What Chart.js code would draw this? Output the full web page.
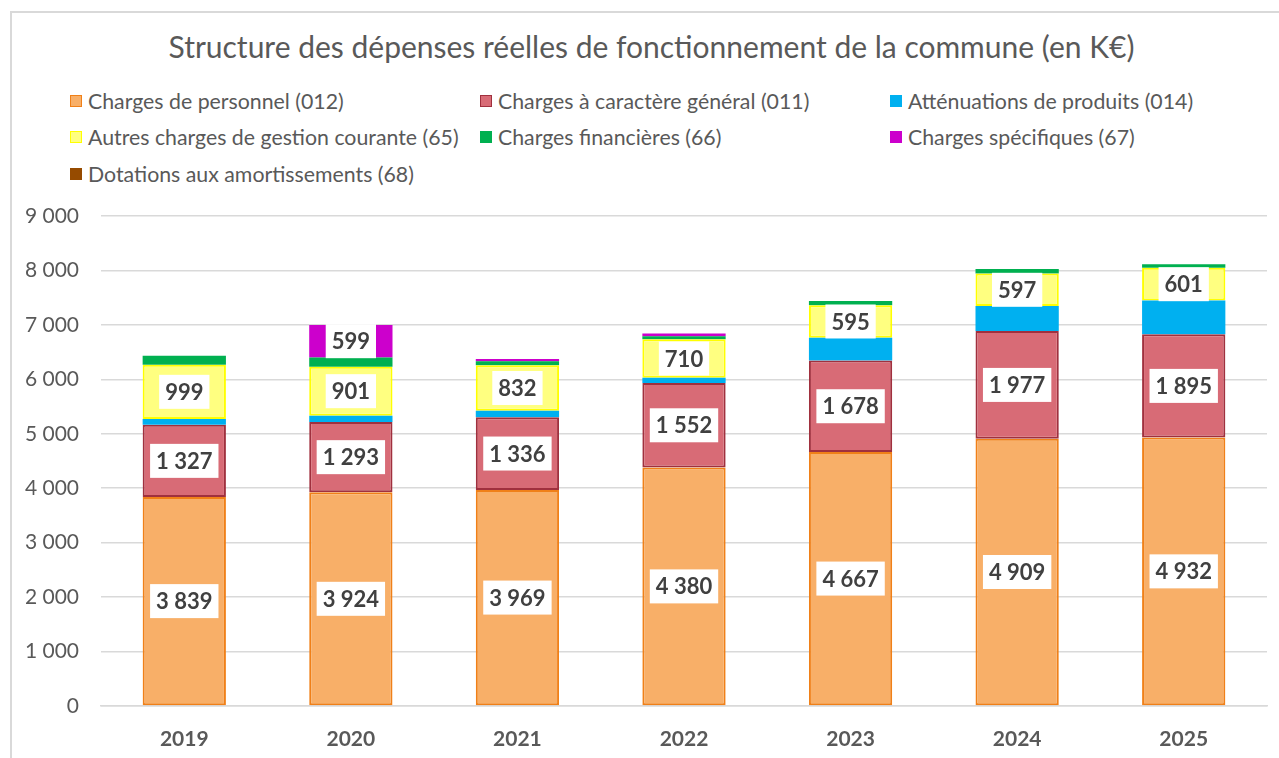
<!DOCTYPE html>
<html lang="fr">
<head>
<meta charset="utf-8">
<title>Structure des dépenses réelles de fonctionnement</title>
<script src="https://cdn.jsdelivr.net/npm/chart.js@4.4.1/dist/chart.umd.min.js"></script>
<style>
  html, body { margin: 0; padding: 0; background: #fff; }
  #wrap { position: relative; width: 1279px; height: 758px; overflow: hidden; font-family: Lato, "Open Sans", sans-serif; }
  #frame { position: absolute; left: 10px; top: 11px; width: 1300px; height: 800px; border-left: 2px solid #d9d9d9; border-top: 2px solid #d9d9d9; }
  #title { position: absolute; left: 0; width: 1303px; top: 28px; text-align: center; font-size: 30px; color: #595959; white-space: nowrap; }
  #legend { position: absolute; left: 70px; top: 88px; display: grid; grid-template-columns: 410px 410px 410px; row-gap: 11.5px; }
  .item { display: flex; align-items: center; height: 25px; font-size: 21.3px; color: #595959; white-space: nowrap; }
  .item i { display: inline-block; width: 10px; height: 10px; margin-right: 6px; border: 1px solid; }
  canvas { position: absolute; left: 0; top: 0; }
</style>
</head>
<body>
<div id="wrap">
  <div id="frame"></div>
  <div id="title">Structure des dépenses réelles de fonctionnement de la commune (en K€)</div>
  <div id="legend"></div>
  <canvas id="depensesChart" width="1279" height="758"></canvas>
</div>
<script>
// Dépenses réelles de fonctionnement, en K€
const years = ['2019', '2020', '2021', '2022', '2023', '2024', '2025'];
const personnel = [3839, 3924, 3969, 4380, 4667, 4909, 4932];
const caractereGeneral = [1327, 1293, 1336, 1552, 1678, 1977, 1895];
const attenuations = [105, 115, 120, 95, 420, 460, 620];
const autresCharges = [999, 901, 832, 710, 595, 597, 601];
const financieres = [165, 168, 75, 55, 80, 85, 65];
const specifiques = [0, 599, 42, 50, 0, 0, 0];
const dotations = [0, 0, 0, 0, 0, 0, 0];
const yTicks = [0, 1000, 2000, 3000, 4000, 5000, 6000, 7000, 8000, 9000];

const fmt = v => String(Math.round(v)).replace(/\B(?=(\d{3})+(?!\d))/g, ' ');

const datasets = [
    { label: 'Charges de personnel (012)', data: personnel, backgroundColor: '#F8AF68', borderColor: '#F08018', borderWidth: 2, borderSkipped: false, showValue: true },
    { label: 'Charges à caractère général (011)', data: caractereGeneral, backgroundColor: '#D86B76', borderColor: '#A0303E', borderWidth: 2, borderSkipped: false, showValue: true },
    { label: 'Atténuations de produits (014)', data: attenuations, backgroundColor: '#00B0F0', borderColor: '#00B0F0', borderWidth: 0 },
    { label: 'Autres charges de gestion courante (65)', data: autresCharges, backgroundColor: '#FFFF80', borderColor: '#FFFF00', borderWidth: 2, borderSkipped: false, showValue: true },
    { label: 'Charges financières (66)', data: financieres, backgroundColor: '#00B050', borderColor: '#00B050', borderWidth: 0 },
    { label: 'Charges spécifiques (67)', data: specifiques, backgroundColor: '#CC00CC', borderColor: '#CC00CC', borderWidth: 0, showValue: true },
    { label: 'Dotations aux amortissements (68)', data: dotations, backgroundColor: '#964B00', borderColor: '#964B00', borderWidth: 0 }
];

// étiquettes de valeur dans un cadre blanc, au centre de chaque segment
const valueBoxes = {
    id: 'valueBoxes',
    afterDatasetsDraw(chart) {
        const ctx = chart.ctx;
        ctx.save();
        ctx.font = 'bold 22px Lato, "Open Sans", sans-serif';
        ctx.textAlign = 'center';
        ctx.textBaseline = 'middle';
        chart.data.datasets.forEach((ds, i) => {
            if (!ds.showValue) return;
            chart.getDatasetMeta(i).data.forEach((bar, j) => {
                const v = ds.data[j];
                if (v < 300) return;
                const txt = fmt(v);
                const w = ctx.measureText(txt).width + 12;
                const h = 34;
                const cy = (bar.y + bar.base) / 2;
                ctx.fillStyle = '#fff';
                ctx.fillRect(bar.x - w / 2, cy - h / 2, w, h);
                ctx.fillStyle = '#404040';
                ctx.fillText(txt, bar.x, cy + 1);
            });
        });
        ctx.restore();
    }
};

const config = {
    type: 'bar',
    data: { labels: years, datasets: datasets },
    options: {
        responsive: false,
        animation: false,
        categoryPercentage: 0.5,
        barPercentage: 1,
        layout: { padding: { top: 216, left: 0, right: 12, bottom: 0 } },
        scales: {
            x: {
                stacked: true,
                grid: { display: false },
                border: { color: '#d9d9d9', width: 1.5 },
                ticks: { color: '#595959', padding: 13, font: { family: 'Lato', size: 21, weight: 'bold' } },
                afterFit: s => { s.height = 52; }
            },
            y: {
                stacked: true,
                min: 0,
                max: 9000,
                afterBuildTicks: s => { s.ticks = yTicks.map(v => ({ value: v })); },
                grid: { color: '#d9d9d9', lineWidth: 1.5, drawTicks: false },
                border: { display: false },
                ticks: { color: '#595959', padding: 22, font: { family: 'Lato', size: 21 }, callback: v => fmt(v) },
                afterFit: s => { s.width = 101; }
            }
        },
        plugins: {
            legend: { display: false },
            tooltip: { enabled: false }
        }
    },
    plugins: [valueBoxes]
};

const chart = new Chart(document.getElementById('depensesChart'), config);

// légende sur trois colonnes
document.getElementById('legend').innerHTML = chart.data.datasets.map(ds =>
    `<div class="item"><i style="background:${ds.backgroundColor};border-color:${ds.borderWidth ? ds.borderColor : ds.backgroundColor}"></i>${ds.label}</div>`
).join('');
</script>
</body>
</html>
